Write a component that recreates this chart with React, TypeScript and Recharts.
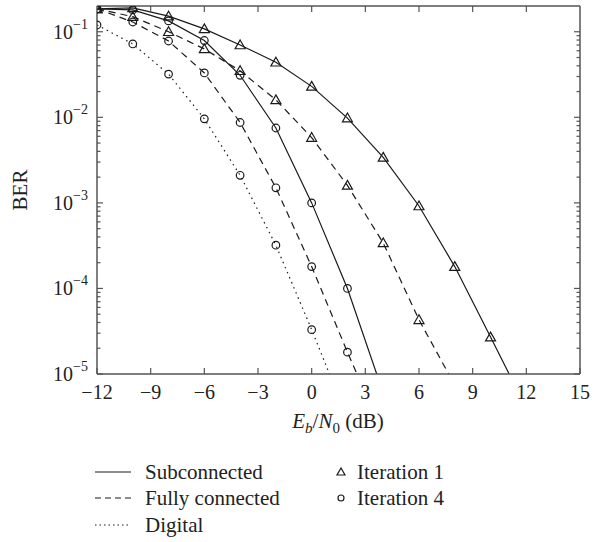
import React from 'react';
import { LineChart, Line, XAxis, YAxis } from 'recharts';

// Eb/N0 (dB) sample points
const snr = [-12, -10, -8, -6, -4, -2, 0, 2, 4, 6, 8, 10, 12];

const subIter1 = [0.185, 0.19, 0.152, 0.108, 0.07, 0.044, 0.023, 0.0098, 0.0034, 0.00092, 0.00018, 2.7e-5, 4e-6];
const subIter4 = [0.185, 0.18, 0.134, 0.079, 0.031, 0.0075, 0.001, 1.0e-4, 6e-6];
const fullIter1 = [0.185, 0.15, 0.1, 0.063, 0.035, 0.016, 0.0058, 0.0016, 0.00034, 4.3e-5, 7.4e-6];
const fullIter4 = [0.185, 0.13, 0.078, 0.033, 0.0087, 0.0015, 1.8e-4, 1.8e-5, 2e-6];
const digital = [0.12, 0.072, 0.032, 0.0096, 0.0021, 3.2e-4, 3.3e-5, 3e-6];

const xTicks = [-12, -9, -6, -3, 0, 3, 6, 9, 12, 15];
const yDecades = [1e-5, 1e-4, 1e-3, 1e-2, 1e-1];
const yTicks = yDecades.flatMap((d) => (d >= 0.1 ? [d] : [1, 2, 3, 4, 5, 6, 7, 8, 9].map((m) => m * d)));

const font = '"Liberation Serif", "Times New Roman", serif';
const axisColor = '#555';
const ink = '#1a1a1a';

const toPoints = (ys: number[]) => ys.map((y, i) => ({ x: snr[i], y }));

const isDecade = (v: number) => Math.abs(Math.log10(v) - Math.round(Math.log10(v))) < 1e-6;

const Triangle = ({ cx, cy, s = 5 }: any) => (
    <path
        d={`M${cx},${cy - s} L${cx + s},${cy + s * 0.75} L${cx - s},${cy + s * 0.75} Z`}
        fill="none"
        stroke={ink}
        strokeWidth={1.2}
    />
);

const triDot = (props: any) => <Triangle key={props.index} cx={props.cx} cy={props.cy} />;
const circDot = (props: any) => (
    <circle key={props.index} cx={props.cx} cy={props.cy} r={3.8} fill="none" stroke={ink} strokeWidth={1.2} />
);

const LeftTick = ({ x, y, payload }: any) => {
    const v = payload.value;
    const major = isDecade(v);
    return (
        <g>
            <line x1={x} x2={x + (major ? 6 : 3.5)} y1={y} y2={y} stroke={axisColor} strokeWidth={1.2} />
            {major && (
                <text x={x - 9} y={y + 7} textAnchor="end" fontSize={20} fontFamily={font} fill="#222">
                    10
                    <tspan dy={-10} fontSize={14}>{`\u2212${Math.round(-Math.log10(v))}`}</tspan>
                </text>
            )}
        </g>
    );
};

const RightTick = ({ x, y, payload }: any) => {
    const major = isDecade(payload.value);
    return <line x1={x} x2={x - (major ? 6 : 3.5)} y1={y} y2={y} stroke={axisColor} strokeWidth={1.2} />;
};

const BottomTick = ({ x, y, payload }: any) => {
    const v = payload.value;
    const label = v < 0 ? `\u2212${-v}` : `${v}`;
    return (
        <g>
            <line x1={x} x2={x} y1={y} y2={y - 6} stroke={axisColor} strokeWidth={1.2} />
            <text x={x} y={y + 25} textAnchor="middle" fontSize={20} fontFamily={font} fill="#222">
                {label}
            </text>
        </g>
    );
};

const TopTick = ({ x, y }: any) => (
    <line x1={x} x2={x} y1={y} y2={y + 6} stroke={axisColor} strokeWidth={1.2} />
);

const XLabel = () => (
    <text x={338} y={428} textAnchor="middle" fontSize={21} fontFamily={font} fill="#222">
        <tspan fontStyle="italic">E</tspan>
        <tspan fontStyle="italic" fontSize={15} dy={5}>b</tspan>
        <tspan dy={-5}>/</tspan>
        <tspan fontStyle="italic">N</tspan>
        <tspan fontSize={15} dy={5}>0</tspan>
        <tspan dy={-5}> (dB)</tspan>
    </text>
);

const YLabel = () => (
    <text x={27} y={190} textAnchor="middle" fontSize={21} fontFamily={font} fill="#222" transform="rotate(-90 27 190)">
        BER
    </text>
);

const lineItems = [
    { name: 'Subconnected', dash: undefined },
    { name: 'Fully connected', dash: '6 4' },
    { name: 'Digital', dash: '1.5 3' },
];
const markerItems = ['Iteration 1', 'Iteration 4'];

function LegendBox() {
    const rows = [32, 58, 85];
    return (
        <svg width={602} height={102} style={{ position: 'absolute', left: 0, top: 440 }}>
            {lineItems.map((it, i) => (
                <g key={it.name}>
                    <line x1={95} x2={131} y1={rows[i]} y2={rows[i]} stroke={ink} strokeWidth={1.2} strokeDasharray={it.dash} />
                    <text x={145} y={rows[i] + 7} fontSize={21} fontFamily={font} fill="#222">{it.name}</text>
                </g>
            ))}
            {markerItems.map((name, i) => (
                <g key={name}>
                    {i === 0 ? (
                        <Triangle cx={341} cy={rows[i]} s={4} />
                    ) : (
                        <circle cx={341} cy={rows[i]} r={3} fill="none" stroke={ink} strokeWidth={1.2} />
                    )}
                    <text x={357} y={rows[i] + 7} fontSize={21} fontFamily={font} fill="#222">{name}</text>
                </g>
            ))}
        </svg>
    );
}

const series = [
    { key: 'sub1', data: subIter1, dash: undefined, dot: triDot },
    { key: 'sub4', data: subIter4, dash: undefined, dot: circDot },
    { key: 'full1', data: fullIter1, dash: '7 5', dot: triDot },
    { key: 'full4', data: fullIter4, dash: '7 5', dot: circDot },
    { key: 'dig', data: digital, dash: '1.5 4', dot: circDot },
];

export default function App() {
    return (
        <div style={{ position: 'absolute', left: 0, top: 0, width: 602, height: 542, background: '#fff' }}>
            <LineChart width={602} height={542} margin={{ top: 5, right: 21, left: 37, bottom: 138 }}>
                <XAxis
                    xAxisId="b"
                    type="number"
                    dataKey="x"
                    domain={[-12, 15]}
                    ticks={xTicks}
                    interval={0}
                    allowDataOverflow
                    height={30}
                    tickSize={0}
                    tickMargin={0}
                    tickLine={false}
                    tick={<BottomTick />}
                    axisLine={{ stroke: axisColor, strokeWidth: 1.5 }}
                    label={<XLabel />}
                />
                <XAxis
                    xAxisId="t"
                    orientation="top"
                    type="number"
                    dataKey="x"
                    domain={[-12, 15]}
                    ticks={xTicks.slice(1, -1)}
                    interval={0}
                    allowDataOverflow
                    height={1}
                    tickSize={0}
                    tickMargin={0}
                    tickLine={false}
                    tick={<TopTick />}
                    axisLine={{ stroke: axisColor, strokeWidth: 1.5 }}
                />
                <YAxis
                    yAxisId="l"
                    type="number"
                    scale="log"
                    domain={[1e-5, 0.2]}
                    ticks={yTicks}
                    interval={0}
                    allowDataOverflow
                    width={60}
                    tickSize={0}
                    tickMargin={0}
                    tickLine={false}
                    tick={<LeftTick />}
                    axisLine={{ stroke: axisColor, strokeWidth: 1.5 }}
                    label={<YLabel />}
                />
                <YAxis
                    yAxisId="r"
                    orientation="right"
                    type="number"
                    scale="log"
                    domain={[1e-5, 0.2]}
                    ticks={yTicks}
                    interval={0}
                    allowDataOverflow
                    width={1}
                    tickSize={0}
                    tickMargin={0}
                    tickLine={false}
                    tick={<RightTick />}
                    axisLine={{ stroke: axisColor, strokeWidth: 1.5 }}
                />
                {series.map((s) => (
                    <Line
                        key={s.key}
                        xAxisId="b"
                        yAxisId="l"
                        data={toPoints(s.data)}
                        dataKey="y"
                        type="linear"
                        stroke={ink}
                        strokeWidth={1.2}
                        strokeDasharray={s.dash}
                        dot={s.dot}
                        activeDot={false}
                        isAnimationActive={false}
                    />
                ))}
            </LineChart>
            <LegendBox />
        </div>
    );
}
